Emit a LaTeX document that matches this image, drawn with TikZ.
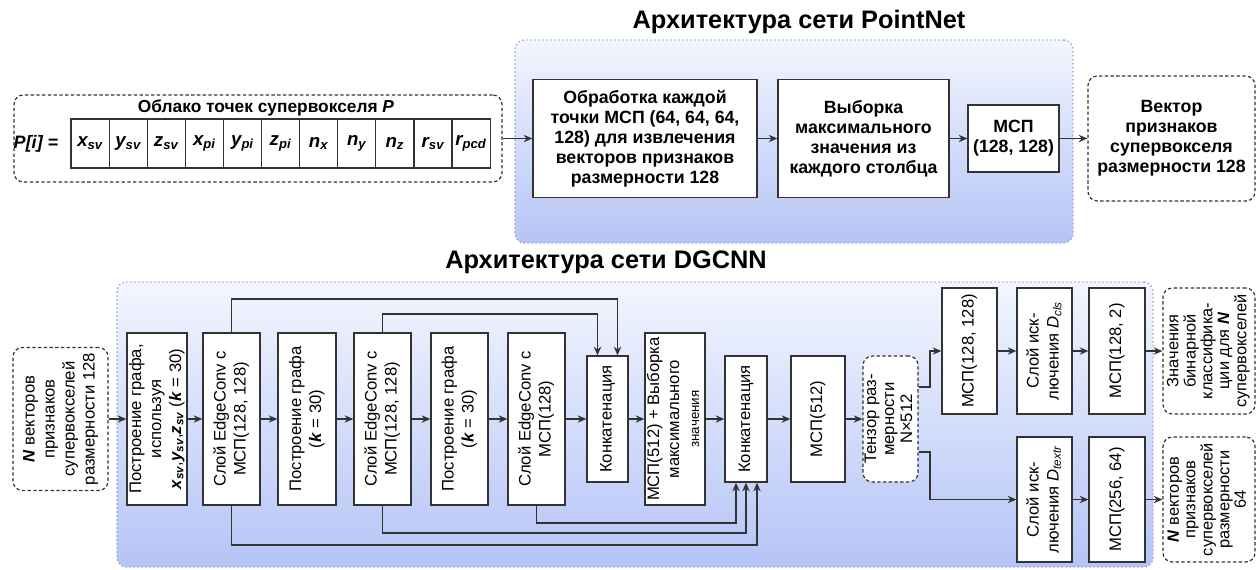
\documentclass[tikz,border=0pt]{standalone}
\usepackage{fontspec}
\setmainfont{Liberation Sans}
\usepackage{graphicx}
\usetikzlibrary{arrows.meta,calc}

% vertical (rotated) multi-line label
\newcommand\vt[1]{\rotatebox{90}{\begin{tabular}{@{}c@{}}#1\end{tabular}}}
\newcommand\bi[1]{\textbf{\textit{#1}}}
\newcommand\sv[2]{\textbf{\textit{#1\textsubscript{#2}}}}

\definecolor{ink}{HTML}{333333}
\definecolor{paneltop}{HTML}{F3F6FE}
\definecolor{panelbot}{HTML}{B4C4F6}
\definecolor{paneledge}{HTML}{98A4CC}

\begin{document}
\begin{tikzpicture}[x=0.75pt,y=-0.75pt,
  sz/.style 2 args={minimum width=#1*0.75pt, minimum height=#2*0.75pt},
  panel/.style={draw=paneledge, dotted, line width=1pt, rounded corners=7pt,
    top color=paneltop, bottom color=panelbot, inner sep=0pt},
  box/.style={draw=ink, line width=1pt, fill=white, inner sep=0pt, align=center,
    font=\fontsize{12.5}{15}\selectfont},
  tbox/.style={box, font=\bfseries\fontsize{13.3}{15}\selectfont},
  io/.style={draw=ink, dash pattern=on 2.5pt off 1.8pt, line width=0.9pt,
    rounded corners=7pt, inner sep=0pt, align=center, fill=white,
    font=\fontsize{12.5}{15}\selectfont},
  cell/.style={draw=ink, line width=0.9pt, fill=white, sz={38.1}{49}, inner sep=0pt,
    font=\fontsize{14}{16}\selectfont},
  arr/.style={draw=ink, line width=1pt, -{Stealth[length=6.5pt,width=5.5pt]}},
  ttl/.style={font=\bfseries\fontsize{19}{22}\selectfont, anchor=base}
]
\useasboundingbox (0,0) rectangle (1259,569);

% ---------------- PointNet ----------------
\node[panel, sz={558}{203}] (pn) at (794,141.5) {};
\node[ttl] (t1) at (799,28) {Архитектура сети PointNet};

\node[io, sz={488}{87}] (pc) at (258,138.5) {};
\node[font=\bfseries\fontsize{13}{15}\selectfont] (pct) at (266,108)
  {Облако точек супервокселя \textit{P}};
\node[font=\bfseries\itshape\fontsize{13.5}{15}\selectfont] (pi) at (36,143.5) {P[i] =};
\foreach \t [count=\i] in {\sv{x}{sv}, \sv{y}{sv}, \sv{z}{sv}, \sv{x}{pi}, \sv{y}{pi},
    \sv{z}{pi}, \sv{n}{x}, \sv{n}{y}, \sv{n}{z}, \sv{r}{sv}, \sv{r}{pcd}}
  \node[cell] (c\i) at ({71+19.05+(\i-1)*38.1},143.5) {\t};

\node[tbox, sz={224}{118}] (b1) at (645,138.5)
  {Обработка каждой\\точки МСП (64, 64, 64,\\128) для извлечения\\векторов признаков\\размерности 128};
\node[tbox, sz={171}{118}] (b2) at (863.5,138.5)
  {Выборка\\максимального\\значения из\\каждого столбца};
\node[tbox, sz={91}{67}] (b3) at (1013.5,138.5) {МСП\\(128, 128)};
\node[io, sz={167}{125}, font=\bfseries\fontsize{13.3}{15}\selectfont] (vo) at (1171.5,138.5)
  {Вектор\\признаков\\супервокселя\\размерности 128};

\draw[arr] (pc.east) -- (b1.west);
\draw[arr] (b1.east) -- (b2.west);
\draw[arr] (b2.east) -- (b3.west);
\draw[arr] (b3.east) -- (vo.west);

% ---------------- DGCNN ----------------
\node[panel, sz={1036}{285}] (dg) at (635,424.5) {};
\node[ttl] (t2) at (606,268) {Архитектура сети DGCNN};

\node[io, sz={95}{143}] (in) at (60.5,419)
  {\vt{\bi{N} векторов\\признаков\\супервокселей\\размерности 128}};
\node[box, sz={58}{172}] (A) at (157,419)
  {\vt{Построение графа,\\используя\\\sv{x}{sv},\sv{y}{sv},\sv{z}{sv} (\bi{k} = 30)}};
\node[box, sz={57}{172}] (B) at (231.5,419) {\vt{Слой EdgeConv с\\МСП(128, 128)}};
\node[box, sz={58}{172}] (C) at (307,419) {\vt{Построение графа\\(\bi{k} = 30)}};
\node[box, sz={57}{172}] (D) at (382.5,419) {\vt{Слой EdgeConv с\\МСП(128, 128)}};
\node[box, sz={57}{172}] (E) at (459.5,419) {\vt{Построение графа\\(\bi{k} = 30)}};
\node[box, sz={57}{172}] (F) at (536.5,419) {\vt{Слой EdgeConv с\\МСП(128)}};
\node[box, sz={41}{126}] (G) at (607.5,419) {\vt{Конкатенация}};
\node[box, sz={54}{172}] (H) at (675,419)
  {\vt{МСП(512) + Выборка\\максимального\\{\fontsize{10}{12}\selectfont значения}}};
\node[box, sz={42}{126}] (I) at (746,419) {\vt{Конкатенация}};
\node[box, sz={54}{126}] (J) at (818,419) {\vt{МСП(512)}};
\node[io, sz={55}{126}, font=\fontsize{12.5}{13.5}\selectfont] (T) at (890.5,419)
  {\vt{Тензор раз-\\мерности\\N×512}};

\node[box, sz={55}{126}] (M1) at (969.5,351) {\vt{МСП(128, 128)}};
\node[box, sz={55}{126}] (Dc) at (1044.5,351)
  {\vt{Слой иск-\\лючения \textit{D}\textsubscript{\textit{cls}}}};
\node[box, sz={56}{126}] (M2) at (1117,351) {\vt{МСП(128, 2)}};
\node[io, sz={92}{126}, font=\fontsize{12.3}{12.5}\selectfont] (O1) at (1209,351)
  {\vt{Значения\\бинарной\\классифика-\\ции для \bi{N}\\супервокселей}};

\node[box, sz={55}{125}] (Dt) at (1044.5,499.5)
  {\vt{Слой иск-\\лючения \textit{D}\textsubscript{\textit{textr}}}};
\node[box, sz={56}{125}] (M3) at (1117,499.5) {\vt{МСП(256, 64)}};
\node[io, sz={92}{125}, font=\fontsize{12.3}{12.5}\selectfont] (O2) at (1209,499.5)
  {\vt{\bi{N} векторов\\признаков\\супервокселей\\размерности\\64}};

% main chain
\draw[arr] (in.east) -- (A.west);
\draw[arr] (A.east) -- (B.west);
\draw[arr] (B.east) -- (C.west);
\draw[arr] (C.east) -- (D.west);
\draw[arr] (D.east) -- (E.west);
\draw[arr] (E.east) -- (F.west);
\draw[arr] (F.east) -- (G.west);
\draw[arr] (G.east) -- (H.west);
\draw[arr] (H.east) -- (I.west);
\draw[arr] (I.east) -- (J.west);
\draw[arr] (J.east) -- (T.west);

% branches after the tensor
\coordinate (k1) at (930,0);
\draw[arr] ($(T.east)+(0,-32)$) -| (k1 |- M1.west) -- (M1.west);
\draw[arr] ($(T.east)+(0,33)$) -| (k1 |- Dt.west) -- (Dt.west);
\draw[arr] (M1.east) -- (Dc.west);
\draw[arr] (Dc.east) -- (M2.west);
\draw[arr] (M2.east) -- (O1.west);
\draw[arr] (Dt.east) -- (M3.west);
\draw[arr] (M3.east) -- (O2.west);

% skip connections
\coordinate (s1) at (0,299);
\coordinate (s2) at (0,314);
\coordinate (s3) at (0,523);
\coordinate (s4) at (0,533);
\coordinate (s5) at (0,545);
\coordinate (gR) at ($(G.north)+(10,0)$);
\coordinate (gL) at ($(G.north)+(-10,0)$);
\coordinate (iL) at ($(I.south)+(-10,0)$);
\coordinate (iR) at ($(I.south)+(11,0)$);
\draw[arr] (B.north) |- (gR |- s1) -- (gR);
\draw[arr] (D.north) |- (gL |- s2) -- (gL);
\draw[arr] (F.south) |- (iL |- s3) -- (iL);
\draw[arr] (D.south) |- (I.south |- s4) -- (I.south);
\draw[arr] (B.south) |- (iR |- s5) -- (iR);
\end{tikzpicture}
\end{document}
